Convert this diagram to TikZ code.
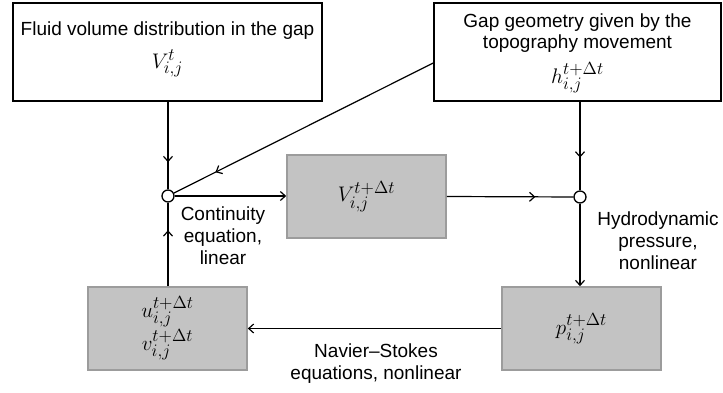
\documentclass[tikz,border=0pt]{standalone}
\usepackage{graphicx}
\usepackage{fontspec}
\setmainfont{Liberation Sans}
\usetikzlibrary{arrows.meta,decorations.markings}
\definecolor{boxgray}{HTML}{C3C3C3}
\definecolor{edgegray}{HTML}{9C9C9C}
\newcommand{\bigmath}[1]{\scalebox{1.22}{$#1$}}
\begin{document}
\begin{tikzpicture}[x=1pt,y=-1pt,
  lbl/.style={font=\fontsize{19}{22}\selectfont, align=center, inner sep=0pt},
  mth/.style={font=\fontsize{19}{22}\selectfont, inner sep=0pt},
  whitebox/.style={draw=black, line width=1.6pt, inner sep=0pt},
  graybox/.style={draw=edgegray, fill=boxgray, line width=1.6pt, inner sep=0pt, minimum width=159pt, minimum height=83pt},
  junction/.style={circle, draw=black, fill=white, line width=1.3pt, minimum size=12pt, inner sep=0pt},
  conn/.style={line width=1.2pt},
  endtip/.style={-{Straight Barb[length=5pt,width=9pt,line width=1.2pt]}},
  midarrow/.style={postaction={decorate}, decoration={markings, mark=at position #1 with {\arrow{Straight Barb[length=5pt,width=9pt,line width=1.2pt]}}}}
]
\fill[white] (0,0) rectangle (723,392);
\useasboundingbox (0,0) rectangle (723,392);

% boxes
\node[whitebox, minimum width=309pt, minimum height=98pt] (b1) at (167.5,52) {};
\node[lbl, anchor=base] (b1t) at (167.5,35) {Fluid volume distribution in the gap};
\node[mth, anchor=base] (b1m) at (167.5,68) {\bigmath{V_{i,j}^{t}}};

\node[whitebox, minimum width=287pt, minimum height=98pt] (b2) at (577.5,52) {};
\node[lbl, anchor=base] (b2t) at (577.5,27) {Gap geometry given by the};
\node[lbl, anchor=base] (b2u) at (577.5,48) {topography movement};
\node[mth, anchor=base] (b2m) at (577.5,83) {\bigmath{h_{i,j}^{t+\Delta t}}};

\node[graybox] (vb) at (366.5,196.5) {};
\node[mth] (vbm) at (366.5,196.5) {\bigmath{V_{i,j}^{t+\Delta t}}};

\node[graybox] (uv) at (167.5,328.5) {};
\node[mth, anchor=base] (uvm1) at (167.5,317) {\bigmath{u_{i,j}^{t+\Delta t}}};
\node[mth, anchor=base] (uvm2) at (167.5,350) {\bigmath{v_{i,j}^{t+\Delta t}}};

\node[graybox] (pb) at (581.5,328.5) {};
\node[mth] (pbm) at (581.5,328.5) {\bigmath{p_{i,j}^{t+\Delta t}}};

% junctions
\node[junction] (j1) at (168,196) {};
\node[junction] (j2) at (580,197) {};

% connectors
\draw[conn, midarrow=0.69] (j1 |- b1.south) -- (j1);
\draw[conn, midarrow=0.84] ([yshift=-11pt]b2.west) -- (j1);
\draw[conn, midarrow=0.63] (j2 |- b2.south) -- (j2);
\draw[conn, endtip] (j1) -- (j1 -| vb.west);
\draw[conn, midarrow=0.7] (vb.east) -- (j2);
\draw[conn, endtip] (j2) -- (j2 |- pb.north);
\draw[conn, endtip] (pb.west) -- (uv.east);
\draw[conn, midarrow=0.67] (j1 |- uv.north) -- (j1);

% labels
\node[lbl] (lc) at (223,236) {Continuity\\equation,\\linear};
\node[lbl] (lh) at (658,241) {Hydrodynamic\\pressure,\\nonlinear};
\node[lbl] (ln) at (376,364) {Navier--Stokes\\equations, nonlinear};
\end{tikzpicture}
\end{document}
